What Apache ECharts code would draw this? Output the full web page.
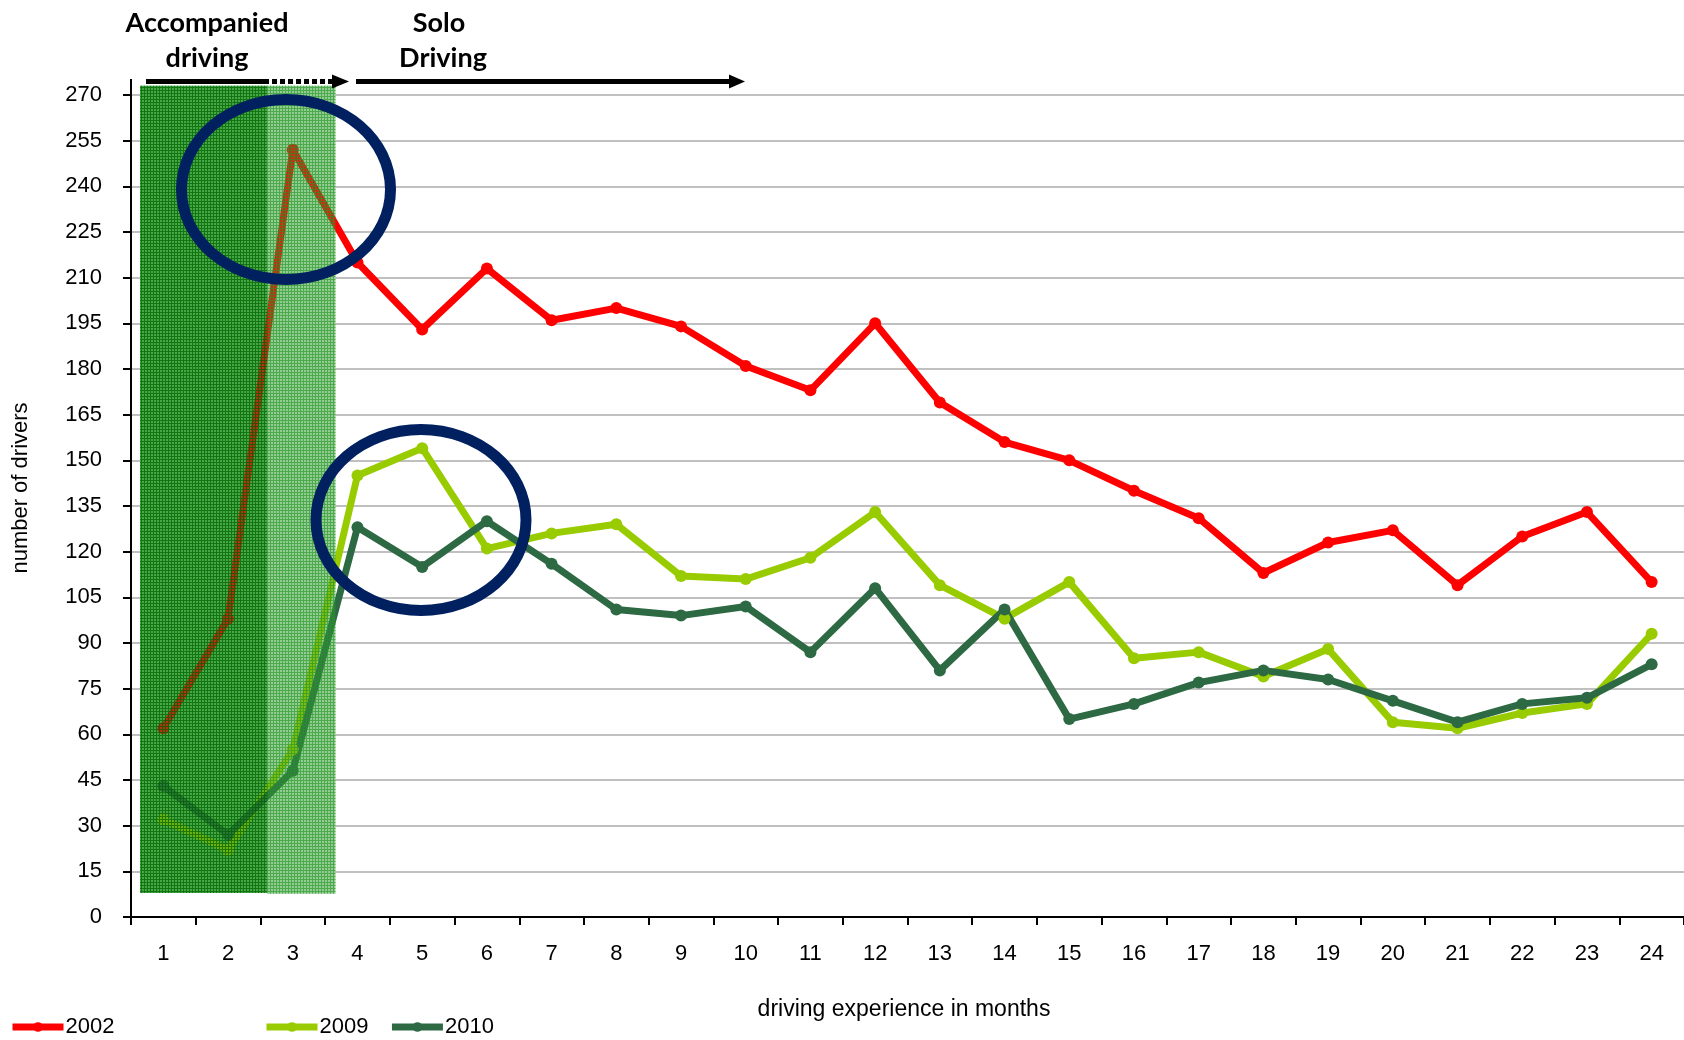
<!DOCTYPE html>
<html>
<head>
<meta charset="utf-8">
<script src="https://cdn.jsdelivr.net/npm/echarts@6/dist/echarts.min.js"></script>
<style>
html,body{margin:0;padding:0;background:#fff;}
#chart{width:1684px;height:1040px;}
</style>
</head>
<body>
<div id="chart"></div>
<script>
// ---- data ----
const months = ['1','2','3','4','5','6','7','8','9','10','11','12','13','14','15','16','17','18','19','20','21','22','23','24'];
const seriesNames = ['2002','2009','2010'];
const values2002 = [62,98,252,215,193,213,196,200,194,181,173,195,169,156,150,140,131,113,123,127,109,125,133,110];
const values2009 = [32,22,55,145,154,121,126,129,112,111,118,133,109,98,110,85,87,79,88,64,62,67,70,93];
const values2010 = [43,27,48,128,115,130,116,101,99,102,87,108,81,101,65,70,77,81,78,71,64,70,72,83];
// shaded phases on a 0..24 month scale: [start, end, bottom value, top value]
const accompaniedZone = [0.14, 2.11, 7.9, 273];
const transitionZone = [2.11, 3.16, 7.6, 273];
const yTicks = {min: 0, max: 270, interval: 15};

const FONT = "'Liberation Sans', Arial, sans-serif";
const TITLE_FONT = "Lato, 'Open Sans', sans-serif";

function makePattern(cell, line) {
  const c = document.createElement('canvas');
  c.width = 3; c.height = 3;
  const g = c.getContext('2d');
  if (cell) { g.fillStyle = cell; g.fillRect(0,0,3,3); }
  g.clearRect(0,0,3,1); g.clearRect(0,1,1,2);
  g.fillStyle = line;
  g.fillRect(0,0,3,1);
  g.fillRect(0,1,1,2);
  return c;
}
const darkOverlay = makePattern('rgba(40,140,40,0.4)', 'rgba(0,100,0,0.8)');
const lightOverlay = makePattern('rgba(60,160,60,0.3)', 'rgba(40,150,40,0.75)');

function zoneRender(fill) {
  return function (params, api) {
    const p0 = api.coord([api.value(0), api.value(3)]);
    const p1 = api.coord([api.value(1), api.value(2)]);
    const f = typeof fill === 'function' ? fill(params.dataIndex) : fill;
    return {
      type: 'rect',
      shape: {x: p0[0], y: p0[1], width: p1[0]-p0[0], height: p1[1]-p0[1]},
      style: {fill: f}
    };
  };
}

const chart = echarts.init(document.getElementById('chart'), null, {renderer: 'canvas'});
const lineColors = ['#FF0000', '#99CC00', '#2D6A44'];
const lineData = [values2002, values2009, values2010];

const lineSeries = seriesNames.map((n, i) => ({
  name: n,
  type: 'line',
  data: lineData[i],
  xAxisIndex: 0,
  yAxisIndex: 0,
  symbol: 'circle',
  symbolSize: 12,
  z: 3,
  lineStyle: {width: 7, color: lineColors[i]},
  itemStyle: {color: lineColors[i]}
}));

const legendCommon = {
  top: 1016, padding: 0,
  itemWidth: 51, itemHeight: 12, itemGap: 20,
  lineStyle: {width: 7},
  textStyle: {fontSize: 22, color: '#000', fontFamily: FONT, padding: [0,0,0,-3]}
};

const option = {
  animation: false,
  backgroundColor: '#fff',
  grid: {left: 131, top: 95, width: 1558, height: 822, containLabel: false},
  xAxis: [{
    type: 'category',
    data: months,
    boundaryGap: true,
    axisLine: {lineStyle: {color: '#000', width: 2}},
    axisTick: {show: true, length: 8, lineStyle: {color: '#000', width: 2}},
    axisLabel: {color: '#000', fontSize: 22, fontFamily: FONT, margin: 26},
    splitLine: {show: false}
  }, {
    type: 'value', min: 0, max: 24, show: false, position: 'top'
  }],
  yAxis: {
    type: 'value',
    min: yTicks.min, max: yTicks.max, interval: yTicks.interval,
    axisLine: {show: true, lineStyle: {color: '#000', width: 2}},
    axisTick: {show: true, length: 8, lineStyle: {color: '#000', width: 2}},
    axisLabel: {color: '#000', fontSize: 22, fontFamily: FONT, margin: 29},
    splitLine: {show: true, lineStyle: {color: '#C0C0C0', width: 2}}
  },
  legend: [
    Object.assign({data: ['2002'], left: 9}, legendCommon),
    Object.assign({data: ['2009', '2010'], left: 263}, legendCommon)
  ],
  series: [
    {
      type: 'custom', name: 'zoneBase', xAxisIndex: 1, yAxisIndex: 0, z: 1, silent: true,
      renderItem: zoneRender(i => i === 0 ? 'rgb(90,185,90)' : 'rgb(185,225,185)'),
      data: [accompaniedZone, transitionZone]
    },
    ...lineSeries,
    {
      type: 'custom', name: 'zoneOverlay', xAxisIndex: 1, yAxisIndex: 0, z: 6, silent: true,
      renderItem: zoneRender(i => ({image: i === 0 ? darkOverlay : lightOverlay, repeat: 'repeat'})),
      data: [accompaniedZone, transitionZone]
    }
  ],
  graphic: [
    // y axis line extension above top gridline
    {type: 'line', shape: {x1: 131, y1: 79, x2: 131, y2: 96}, style: {stroke: '#000', lineWidth: 2}, z: 10},
    // phase arrows
    {type: 'line', shape: {x1: 146, y1: 81.5, x2: 269, y2: 81.5}, style: {stroke: '#000', lineWidth: 5}, z: 10},
    {type: 'line', shape: {x1: 272, y1: 81.5, x2: 333, y2: 81.5}, style: {stroke: '#000', lineWidth: 5, lineDash: [5, 3]}, z: 10},
    {type: 'polygon', shape: {points: [[332, 74.5], [349, 81.5], [332, 88.5]]}, style: {fill: '#000'}, z: 10},
    {type: 'line', shape: {x1: 356, y1: 81.5, x2: 731, y2: 81.5}, style: {stroke: '#000', lineWidth: 5}, z: 10},
    {type: 'polygon', shape: {points: [[729, 74.5], [745, 81.5], [729, 88.5]]}, style: {fill: '#000'}, z: 10},
    // phase labels
    {type: 'text', x: 207, y: 23, style: {text: 'Accompanied', font: "bold 27px " + TITLE_FONT, fill: '#000', textAlign: 'center', textVerticalAlign: 'middle'}, z: 10},
    {type: 'text', x: 207, y: 58, style: {text: 'driving', font: "bold 27px " + TITLE_FONT, fill: '#000', textAlign: 'center', textVerticalAlign: 'middle'}, z: 10},
    {type: 'text', x: 439, y: 23, style: {text: 'Solo', font: "bold 27px " + TITLE_FONT, fill: '#000', textAlign: 'center', textVerticalAlign: 'middle'}, z: 10},
    {type: 'text', x: 443, y: 58, style: {text: 'Driving', font: "bold 27px " + TITLE_FONT, fill: '#000', textAlign: 'center', textVerticalAlign: 'middle'}, z: 10},
    // highlight ellipses
    {type: 'ellipse', shape: {cx: 286, cy: 189.5, rx: 104.5, ry: 90}, style: {fill: null, stroke: '#002060', lineWidth: 11}, z: 20},
    {type: 'ellipse', shape: {cx: 421, cy: 520, rx: 105, ry: 90.5}, style: {fill: null, stroke: '#002060', lineWidth: 11}, z: 20},
    // axis titles
    {type: 'text', x: 21, y: 488, rotation: Math.PI / 2, style: {text: 'number of drivers', font: "22px " + FONT, fill: '#000', textAlign: 'center', textVerticalAlign: 'middle'}, z: 10},
    {type: 'text', x: 904, y: 1010, style: {text: 'driving experience in months', font: "23px " + FONT, fill: '#000', textAlign: 'center', textVerticalAlign: 'middle'}, z: 10}
  ]
};
chart.setOption(option);
</script>
</body>
</html>
